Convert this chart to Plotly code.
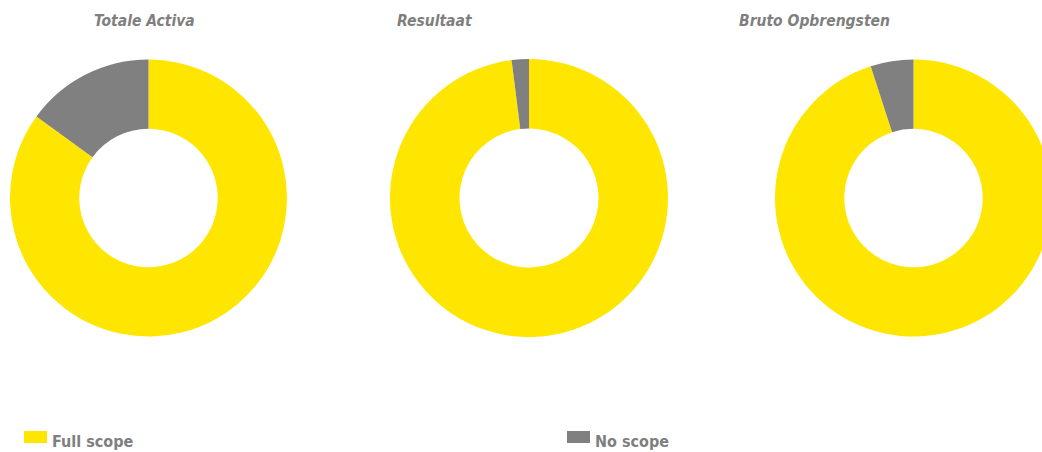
import plotly.graph_objects as go

titles = ["Totale Activa", "Resultaat", "Bruto Opbrengsten"]
labels = ["Full scope", "No scope"]
full_scope = [85, 98, 95]
no_scope = [15, 2, 5]
colors = ["#FFE600", "#808080"]

W, H = 1060, 452
# pixel boxes of each donut (left, right, top, bottom)
boxes = [(10, 287, 59, 337), (390, 668, 59, 337), (775, 1052, 59, 337)]
title_x = [92, 395, 737]
FONT = "Liberation Sans Narrow, Arial Narrow, DejaVu Sans Condensed"

fig = go.Figure()
for i, t in enumerate(titles):
    l, r, tp, b = boxes[i]
    fig.add_trace(go.Pie(
        labels=labels, values=[full_scope[i], no_scope[i]],
        marker=dict(colors=colors, line=dict(width=0)),
        hole=0.5, sort=False, direction="clockwise", rotation=0,
        textinfo="none", hoverinfo="label+value", showlegend=False,
        domain=dict(x=[l / W, r / W], y=[1 - b / H, 1 - tp / H]),
    ))
    fig.add_annotation(
        x=title_x[i] / W, y=1 - 21 / H, xref="paper", yref="paper",
        xanchor="left", yanchor="middle", showarrow=False,
        text="<b><i>" + t + "</i></b>",
        font=dict(family=FONT, size=15.5, color="#7f7f7f"),
    )

# legend
leg_x = [24, 567]
for j, lab in enumerate(labels):
    x0 = leg_x[j]
    fig.add_shape(type="rect", xref="paper", yref="paper",
                  x0=x0 / W, x1=(x0 + 23) / W, y0=1 - 443 / H, y1=1 - 431 / H,
                  fillcolor=colors[j], line=dict(width=0))
    fig.add_annotation(
        x=(x0 + 26) / W, y=1 - 441 / H, xref="paper", yref="paper",
        xanchor="left", yanchor="middle", showarrow=False,
        text="<b>" + lab + "</b>",
        font=dict(family=FONT, size=16, color="#7f7f7f"),
    )

fig.update_layout(
    width=W, height=H, autosize=False,
    margin=dict(l=0, r=0, t=0, b=0),
    paper_bgcolor="white", plot_bgcolor="white",
)
fig.write_html(
    "out.html",
    config={"displayModeBar": False},
    post_script="document.body.style.margin='0';document.body.style.overflow='hidden';"
                "document.documentElement.style.overflow='hidden';",
)
